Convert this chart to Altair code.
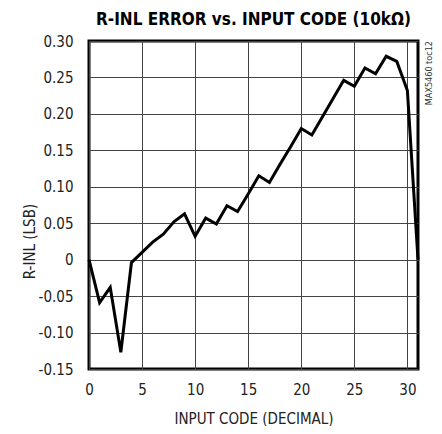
import altair as alt
import pandas as pd

codes = list(range(32))
rinl = [0.0, -0.059, -0.038, -0.127, -0.004, 0.010, 0.024, 0.035, 0.052, 0.063,
        0.032, 0.057, 0.049, 0.074, 0.066, 0.090, 0.115, 0.106, 0.131, 0.155,
        0.180, 0.171, 0.196, 0.221, 0.246, 0.238, 0.263, 0.255, 0.279, 0.272,
        0.232, 0.0]
x_ticks = [0, 5, 10, 15, 20, 25, 30]
y_ticks = [-0.15, -0.10, -0.05, 0.0, 0.05, 0.10, 0.15, 0.20, 0.25, 0.30]

df = pd.DataFrame({"code": codes, "rinl": rinl})

FONT = "Liberation Sans Narrow, DejaVu Sans Condensed, Liberation Sans, sans-serif"

line = alt.Chart(df).mark_line(color="black", strokeWidth=3, strokeJoin="miter").encode(
    x=alt.X("code:Q", scale=alt.Scale(domain=[0, 31], nice=False, zero=False),
            axis=alt.Axis(values=x_ticks, title="INPUT CODE (DECIMAL)", grid=True,
                          gridColor="#444", gridWidth=1, domain=False, ticks=False,
                          labelPadding=13, labelFontSize=15, labelFont=FONT,
                          labelFlush=False,
                          labelColor="#222", titleFont=FONT, titleFontSize=15,
                          titleFontWeight="normal", titleColor="#222", titlePadding=14)),
    y=alt.Y("rinl:Q", scale=alt.Scale(domain=[-0.15, 0.30], nice=False, zero=False),
            axis=alt.Axis(values=y_ticks, title="R-INL (LSB)", grid=True,
                          gridColor="#444", gridWidth=1, domain=False, ticks=False,
                          labelPadding=16, labelFontSize=15, labelFont=FONT,
                          labelFlush=False, labelColor="#222",
                          labelExpr="datum.value == 0 ? '0' : replace(format(datum.value, '.2f'), '\u2212', '-')",
                          titleFont=FONT, titleFontSize=15, titleFontWeight="normal",
                          titleColor="#222", titlePadding=1, titleY=200)),
)

note = alt.Chart(pd.DataFrame({"t": ["MAX5460 toc12"]})).mark_text(
    angle=270, align="right", baseline="middle", fontSize=9, font=FONT, color="#333"
).encode(x=alt.value(340), y=alt.value(0), text="t:N")

chart = alt.layer(line, note).properties(
    width=329, height=328,
    title=alt.TitleParams("R-INL ERROR vs. INPUT CODE (10k\u03a9)", fontSize=17,
                          font=FONT, fontWeight="bold", anchor="middle", offset=5,
                          color="black"),
    autosize=alt.AutoSizeParams(type="none"),
    padding={"left": 81, "top": 33, "right": 16, "bottom": 57},
).configure_view(stroke="black", strokeWidth=3)

chart.save("out.html", embed_options={"renderer": "svg", "actions": False})
